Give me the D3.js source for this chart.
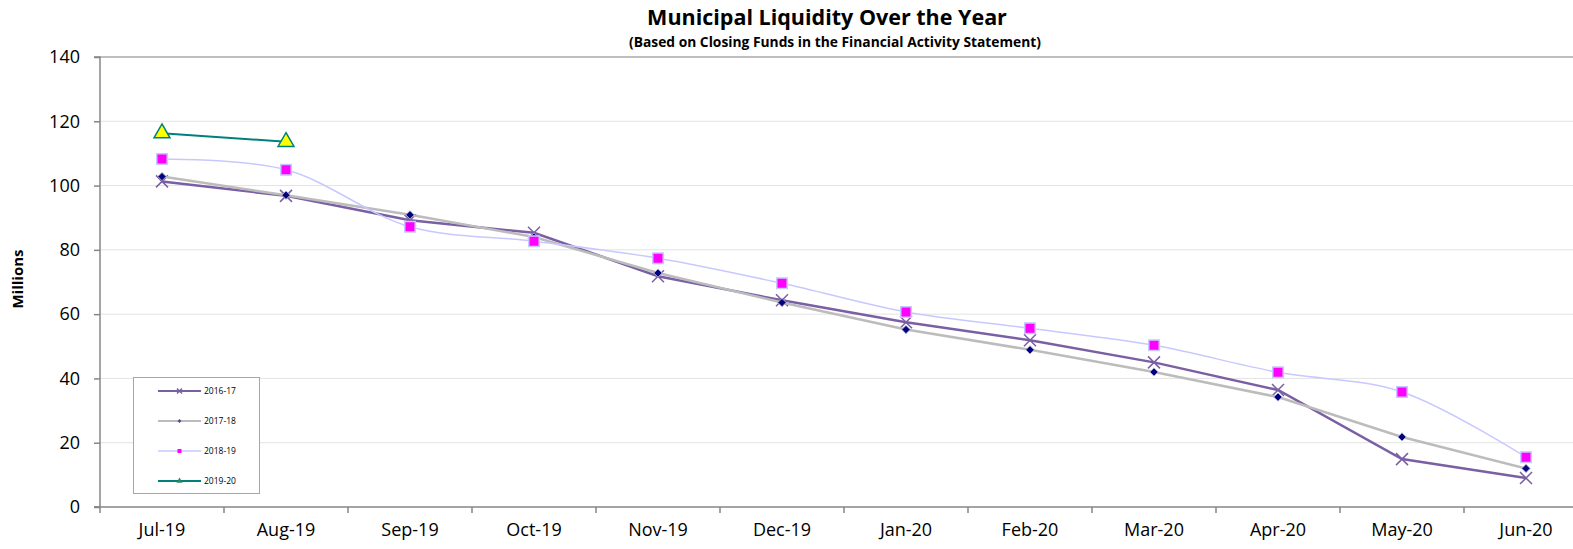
<!DOCTYPE html>
<html>
<head>
<meta charset="utf-8">
<script src="https://cdn.jsdelivr.net/npm/d3@7"></script>
<style>
  body { margin: 0; background: #fff; }
  text { font-family: "Open Sans", sans-serif; fill: #000; }
</style>
</head>
<body>
<div id="chart"></div>
<script>
// data (millions)
var months = ["Jul-19", "Aug-19", "Sep-19", "Oct-19", "Nov-19", "Dec-19",
              "Jan-20", "Feb-20", "Mar-20", "Apr-20", "May-20", "Jun-20"];
var s1617 = [101.3, 96.8, 89.2, 85.3, 71.8, 64.3, 57.5, 51.9, 45.0, 36.4, 14.9, 9.0];
var s1718 = [102.8, 97.0, 90.9, 84.0, 72.8, 63.6, 55.2, 48.9, 42.0, 34.2, 21.8, 12.0];
var s1819 = [108.3, 104.9, 87.2, 82.7, 77.4, 69.6, 60.7, 55.6, 50.3, 41.9, 35.8, 15.5];
var s1920 = [116.3, 113.6];
var seriesNames = ["2016-17", "2017-18", "2018-19", "2019-20"];
var yTicks = [0, 20, 40, 60, 80, 100, 120, 140];

var chartWidth = 1573,
    chartHeight = 549,
    plotLeft = 100,
    bandW = 124,
    plotTop = 57,
    plotBottom = 507;

var svg = d3.select("#chart")
            .append("svg")
            .attr("width", chartWidth)
            .attr("height", chartHeight);

var xScale = d3.scaleBand()
               .domain(months)
               .range([plotLeft, plotLeft + bandW * months.length])
               .padding(0);

var yScale = d3.scaleLinear()
               .domain([0, 140])
               .range([plotBottom, plotTop]);

var cx = m => xScale(m) + xScale.bandwidth() / 2;

// gridlines
svg.append("g")
   .selectAll("line")
   .data(yTicks.filter(v => v > 0))
   .enter().append("line")
   .attr("x1", plotLeft)
   .attr("x2", chartWidth)
   .attr("y1", d => yScale(d))
   .attr("y2", d => yScale(d))
   .attr("stroke", d => d === 140 ? "#bfbfbf" : "#e3e3e3")
   .attr("stroke-width", d => d === 140 ? 2 : 1);

// axes
var yAxis = d3.axisLeft(yScale).tickValues(yTicks).tickSize(6).tickPadding(14);
var gy = svg.append("g")
            .attr("transform", "translate(" + plotLeft + ",0)")
            .call(yAxis);
gy.selectAll("text").style("font-size", "18px");

var xAxis = d3.axisBottom(xScale).tickSize(0).tickPadding(16);
var gx = svg.append("g")
            .attr("transform", "translate(0," + plotBottom + ")")
            .call(xAxis);
gx.selectAll("text").style("font-size", "18px");

// tick marks between the months
gx.selectAll(".sep")
  .data(d3.range(months.length + 1))
  .enter().append("line")
  .attr("class", "sep")
  .attr("x1", i => plotLeft + i * bandW)
  .attr("x2", i => plotLeft + i * bandW)
  .attr("y1", 0)
  .attr("y2", 6);

svg.selectAll(".domain, .tick line, .sep")
   .attr("stroke", "#868686")
   .attr("stroke-width", 1.5);
gy.select(".domain").attr("d", "M-6," + plotTop + "H0V" + plotBottom + "H-6");
gx.select(".domain").attr("d", "M" + (plotLeft - 6) + ",0H" + chartWidth);

// titles
svg.append("text")
   .attr("x", 827).attr("y", 25)
   .attr("text-anchor", "middle")
   .style("font-size", "21.5px").style("font-weight", "bold")
   .text("Municipal Liquidity Over the Year");
svg.append("text")
   .attr("x", 835).attr("y", 47)
   .attr("text-anchor", "middle")
   .style("font-size", "13.8px").style("font-weight", "bold")
   .text("(Based on Closing Funds in the Financial Activity Statement)");
svg.append("text")
   .attr("transform", "translate(23,279) rotate(-90)")
   .attr("text-anchor", "middle")
   .style("font-size", "15px").style("font-weight", "bold")
   .text("Millions");

// marker helpers
function drawX(g, x, y, r, color) {
    g.append("path")
     .attr("d", "M" + (x - r) + "," + (y - r) + "L" + (x + r) + "," + (y + r) +
                "M" + (x - r) + "," + (y + r) + "L" + (x + r) + "," + (y - r))
     .attr("stroke", color).attr("stroke-width", 1.5).attr("fill", "none");
}
function drawSym(g, x, y, type, size, fill, stroke, sw, rot) {
    g.append("path")
     .attr("d", d3.symbol().type(type).size(size)())
     .attr("transform", "translate(" + x + "," + y + ") rotate(" + (rot || 0) + ")")
     .attr("fill", fill).attr("stroke", stroke).attr("stroke-width", sw);
}

var purple = "#7a5fa3", gray = "#bcbcbc", lav = "#c8c8ff", teal = "#00807a";

var straight = d3.line().x((d, i) => cx(months[i])).y(d => yScale(d));
var smooth = d3.line().x((d, i) => cx(months[i])).y(d => yScale(d)).curve(d3.curveCatmullRom.alpha(0.5));

var plot = svg.append("g");

// 2016-17
plot.append("path").attr("d", straight(s1617)).attr("fill", "none")
    .attr("stroke", purple).attr("stroke-width", 2.5);
s1617.forEach((v, i) => drawX(plot, cx(months[i]), yScale(v), 6, purple));

// 2017-18
plot.append("path").attr("d", straight(s1718)).attr("fill", "none")
    .attr("stroke", gray).attr("stroke-width", 2.5);
s1718.forEach((v, i) => drawSym(plot, cx(months[i]), yScale(v), d3.symbolSquare, 34, "#000080", "#b0b0c8", 0.8, 45));

// 2018-19 (smoothed)
plot.append("path").attr("d", smooth(s1819)).attr("fill", "none")
    .attr("stroke", lav).attr("stroke-width", 1.5);
s1819.forEach((v, i) => drawSym(plot, cx(months[i]), yScale(v), d3.symbolSquare, 110, "#ff00ff", lav, 1.5));

// 2019-20
plot.append("path").attr("d", straight(s1920)).attr("fill", "none")
    .attr("stroke", teal).attr("stroke-width", 2);
s1920.forEach((v, i) => drawSym(plot, cx(months[i]), yScale(v), d3.symbolTriangle, 110, "#ffff00", teal, 1.5));

// legend
var legend = svg.append("g");
legend.append("rect")
      .attr("x", 133.5).attr("y", 377.5)
      .attr("width", 126).attr("height", 116)
      .attr("fill", "#fff").attr("stroke", "#a6a6a6");

var legY = d3.scalePoint().domain(seriesNames).range([391, 481]);
var legColors = [purple, gray, lav, teal];
seriesNames.forEach(function(name, i) {
    var y = legY(name);
    legend.append("line")
          .attr("x1", 158).attr("x2", 201).attr("y1", y).attr("y2", y)
          .attr("stroke", legColors[i]).attr("stroke-width", i === 2 ? 1.5 : 2);
    if (i === 0) drawX(legend, 179.5, y, 2.5, purple);
    if (i === 1) drawSym(legend, 179.5, y, d3.symbolSquare, 8, "#5a4a8a", "none", 0, 45);
    if (i === 2) drawSym(legend, 179.5, y, d3.symbolSquare, 16, "#ff00ff", "none", 0);
    if (i === 3) drawSym(legend, 179.5, y, d3.symbolTriangle, 16, "#2a8a5a", "none", 0);
    legend.append("text")
          .attr("x", 204).attr("y", y + 3)
          .style("font-size", "8.5px")
          .text(name);
});
</script>
</body>
</html>
